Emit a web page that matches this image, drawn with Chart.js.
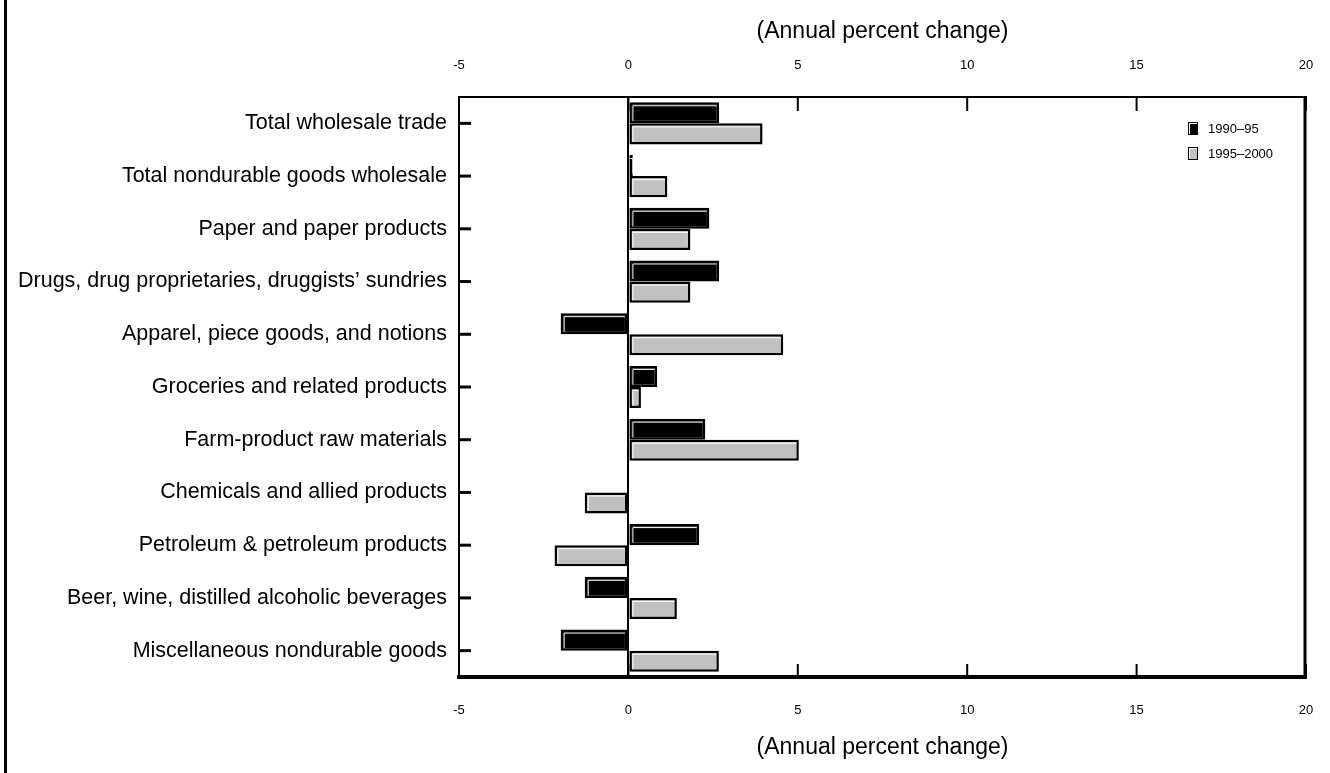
<!DOCTYPE html>
<html>
<head>
<meta charset="utf-8">
<script src="https://cdn.jsdelivr.net/npm/chart.js@4.4.1/dist/chart.umd.min.js"></script>
<style>
  html, body { margin:0; padding:0; background:#fff; }
  #wrap { position:relative; width:1330px; height:773px; overflow:hidden; }
  #frameLeft { position:absolute; left:4px; top:0; width:3px; height:773px; background:#000; }
  #legend { position:absolute; left:1188px; top:116px; font-family:"Liberation Sans", Arial, sans-serif; font-size:13px; color:#000; }
  #legend .item { display:flex; align-items:center; height:25px; }
  #legend .box { width:8px; height:11px; border:1.5px solid #000; margin-right:10px; box-sizing:content-box; }
</style>
</head>
<body>
<div id="wrap">
  <div id="frameLeft"></div>
  <canvas id="chart" width="1330" height="773"></canvas>
  <div id="legend"></div>
</div>
<script>
// wholesale trade productivity, annual percent change
const categories = [
  'Total wholesale trade',
  'Total nondurable goods wholesale',
  'Paper and paper products',
  'Drugs, drug proprietaries, druggists\u2019 sundries',
  'Apparel, piece goods, and notions',
  'Groceries and related products',
  'Farm-product raw materials',
  'Chemicals and allied products',
  'Petroleum & petroleum products',
  'Beer, wine, distilled alcoholic beverages',
  'Miscellaneous nondurable goods'
];
const seriesNames = ['1990\u201395', '1995\u20132000'];
const values9095 = [2.68, 0.13, 2.39, 2.68, -2.0, 0.85, 2.27, 0, 2.09, -1.29, -2.0];
const values9500 = [3.96, 1.15, 1.83, 1.83, 4.57, 0.37, 5.03, -1.29, -2.18, 1.43, 2.67];
const xMin = -5, xMax = 20, xStep = 5;
const axisTitle = '(Annual percent change)';

const FONT = '"Liberation Sans", Arial, sans-serif';
const colors = ['#000000', '#c0c0c0'];

// draws the inward tick marks, right frame and the white bevel on bars
const frameTicks = {
  id: 'frameTicks',
  afterDatasetsDraw(chart){
    const ctx = chart.ctx, a = chart.chartArea, sx = chart.scales.x, sy = chart.scales.y;
    ctx.save();
    // bevel highlight
    chart.data.datasets.forEach((ds, di) => {
      const meta = chart.getDatasetMeta(di);
      meta.data.forEach((bar, i) => {
        if(!ds.data[i]) return;
        const l = Math.min(bar.x, bar.base), r = Math.max(bar.x, bar.base);
        const t = bar.y - bar.height/2, b = bar.y + bar.height/2;
        ctx.strokeStyle = '#fff';
        ctx.lineWidth = 1;
        ctx.beginPath();
        ctx.moveTo(l + 3.5, b - 2.5);
        ctx.lineTo(l + 3.5, t + 3.5);
        ctx.lineTo(r - 2.5, t + 3.5);
        ctx.stroke();
      });
    });
    ctx.strokeStyle = '#000';
    ctx.lineWidth = 3;
    sy.ticks.forEach((tk, i) => {
      const y = sy.getPixelForTick(i);
      ctx.beginPath(); ctx.moveTo(a.left, y); ctx.lineTo(a.left + 12, y); ctx.stroke();
    });
    ctx.lineWidth = 2;
    sx.ticks.forEach((tk, i) => {
      const x = sx.getPixelForTick(i);
      ctx.beginPath(); ctx.moveTo(x, a.top); ctx.lineTo(x, a.top + 14); ctx.stroke();
      ctx.beginPath(); ctx.moveTo(x, a.bottom - 13); ctx.lineTo(x, a.bottom); ctx.stroke();
    });
    ctx.lineWidth = 3;
    ctx.beginPath(); ctx.moveTo(a.right - 1, a.top - 1); ctx.lineTo(a.right - 1, a.bottom); ctx.stroke();
    ctx.restore();
  }
};

const ctx = document.getElementById('chart').getContext('2d');
const chart = new Chart(ctx, {
  type: 'bar',
  data: {
    labels: categories,
    datasets: [
      { label: seriesNames[0], data: values9095, backgroundColor: colors[0], borderColor: '#000', borderWidth: 2.5, borderSkipped: false, xAxisID: 'x' },
      { label: seriesNames[1], data: values9500, backgroundColor: colors[1], borderColor: '#000', borderWidth: 2.5, borderSkipped: false, xAxisID: 'x' }
    ]
  },
  options: {
    indexAxis: 'y',
    responsive: false,
    animation: false,
    layout: { padding: { left: 0, right: 24, top: 0, bottom: 0 } },
    datasets: { bar: { categoryPercentage: 0.8, barPercentage: 1.0 } },
    plugins: { legend: { display: false }, tooltip: { enabled: false } },
    scales: {
      x: {
        position: 'bottom', min: xMin, max: xMax,
        ticks: { stepSize: xStep, color: '#000', font: { family: FONT, size: 13 }, padding: 2, maxRotation: 0 },
        grid: { drawTicks: true, tickLength: 24, tickColor: 'rgba(0,0,0,0)', lineWidth: 2, color: c => c.tick && c.tick.value === 0 ? '#000' : 'rgba(0,0,0,0)' },
        border: { display: true, color: '#000', width: 4 },
        title: { display: true, text: axisTitle, color: '#000', font: { family: FONT, size: 23 }, padding: { top: 0, bottom: 12 } },
        afterFit: s => { s.height = 96; }
      },
      x2: {
        position: 'top', min: xMin, max: xMax,
        ticks: { stepSize: xStep, color: '#000', font: { family: FONT, size: 13 }, padding: 2, maxRotation: 0 },
        grid: { display: true, drawOnChartArea: false, drawTicks: true, tickLength: 22, tickColor: 'rgba(0,0,0,0)' },
        border: { display: true, color: '#000', width: 2 },
        title: { display: true, text: axisTitle, color: '#000', font: { family: FONT, size: 23 }, padding: { top: 18, bottom: 0 } },
        afterFit: s => { s.height = 97; }
      },
      y: {
        ticks: { color: '#000', font: { family: FONT, size: 21.5 }, padding: 12 },
        grid: { display: false, drawTicks: false },
        border: { display: true, color: '#000', width: 2 },
        afterFit: s => { s.width = 459; }
      }
    }
  },
  plugins: [frameTicks]
});

// legend
const legend = document.getElementById('legend');
seriesNames.forEach((name, i) => {
  const item = document.createElement('div');
  item.className = 'item';
  const box = document.createElement('span');
  box.className = 'box';
  box.style.background = colors[i];
  box.style.boxShadow = 'inset 1px 1px 0 #fff';
  const txt = document.createElement('span');
  txt.textContent = name;
  item.appendChild(box); item.appendChild(txt);
  legend.appendChild(item);
});
</script>
</body>
</html>
